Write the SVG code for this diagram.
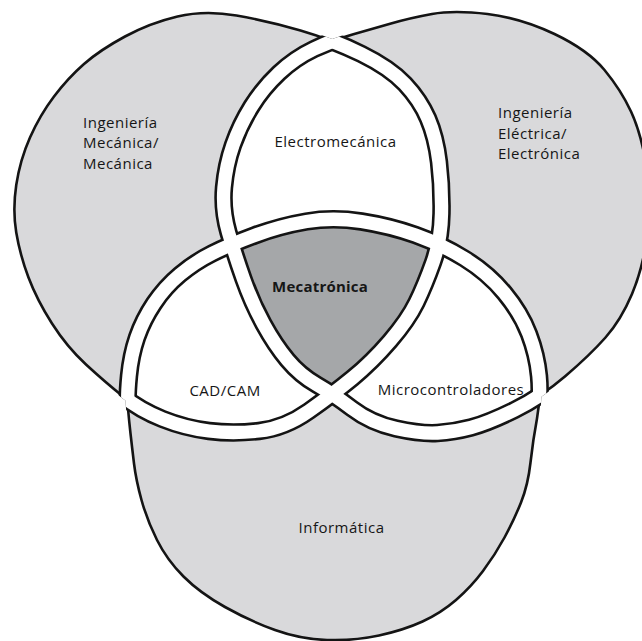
<svg xmlns="http://www.w3.org/2000/svg" width="642" height="641" viewBox="0 0 642 641">
<style>
.lt{fill:#d9d9db}
.wh{fill:#ffffff}
.dk{fill:#a5a7a9}
.ol{fill:none;stroke:#141414;stroke-width:2.6}
.bk{fill:none;stroke:#141414;stroke-width:18.5}
.gap{fill:none;stroke:#ffffff;stroke-width:13.3}
.mk{fill:#ffffff;stroke:#ffffff;stroke-width:4}
.lbl{font-family:"Open Sans","Noto Sans","DejaVu Sans",sans-serif;font-size:15px;letter-spacing:0.5px;fill:#161616}
.b{font-weight:700;letter-spacing:0.2px}
</style>
<defs>
<path id="pA" d="M177.5,16.5 Q205,10 236.5,15.5 Q268,21 300.5,30.5 Q333,40 361.5,54 Q390,68 405,84 Q420,100 428,118.5 Q436,137 439,162 Q442,187 441.5,213.5 Q441,240 433,262.5 Q425,285 416.5,302.5 Q408,320 390,341 Q372,362 352.5,378 Q333,394 309,411 Q285,428 259,431 Q233,434 209,431 Q185,428 162.5,419 Q140,410 122.5,396 Q105,382 86,364.5 Q67,347 52,323.5 Q37,300 28.5,277.5 Q20,255 16.25,232.5 Q12.5,210 16.25,185 Q20,160 30,137.5 Q40,115 54,96.5 Q68,78 84,64 Q100,50 125,36.5 Q150,23 177.5,16.5 Z"/>
<path id="pB" d="M432,14 Q454,10 487.5,14 Q521,18 554.5,34 Q588,50 604.5,70 Q621,90 631,111.5 Q641,133 646.5,166.5 Q652,200 647.5,234 Q643,268 632,294 Q621,320 605.5,337.5 Q590,355 565.5,376 Q541,397 514.5,410 Q488,423 471,427.5 Q454,432 437.5,433 Q421,434 396,428.5 Q371,423 352,408.5 Q333,394 316.5,384.5 Q300,375 287.5,360 Q275,345 263.5,324 Q252,303 243.5,279 Q235,255 228.5,232.5 Q222,210 224,187.5 Q226,165 233,145 Q240,125 251.5,106.5 Q263,88 279,73 Q295,58 314,49 Q333,40 352.5,34.5 Q372,29 391,23.5 Q410,18 432,14 Z"/>
<path id="pC" d="M306.5,221.5 Q333,217 361.5,221.5 Q390,226 415.5,235 Q441,244 464.5,258.5 Q488,273 504.5,293 Q521,313 529,334 Q537,355 539,376 Q541,397 537,418.5 Q533,440 530.5,462.5 Q528,485 521,502.5 Q514,520 504.5,537.5 Q495,555 483,571 Q471,587 456,600 Q441,613 422.5,621.5 Q404,630 379,635.5 Q354,641 327,640 Q300,639 275,630 Q250,621 225,607 Q200,593 183.5,576.5 Q167,560 157,540 Q147,520 141.5,500 Q136,480 134,463.5 Q132,447 130.5,433.5 Q129,420 128,408.5 Q127,397 129,376 Q131,355 137,337.5 Q143,320 154,303.5 Q165,287 180,274.5 Q195,262 212,253.5 Q229,245 254.5,235.5 Q280,226 306.5,221.5 Z"/>
<clipPath id="cA"><use href="#pA"/></clipPath>
<clipPath id="cB"><use href="#pB"/></clipPath>
<clipPath id="cC"><use href="#pC"/></clipPath>
<mask id="mBC" maskUnits="userSpaceOnUse" x="0" y="0" width="642" height="641"><use href="#pB" class="mk"/><use href="#pC" class="mk"/></mask>
<mask id="mAC" maskUnits="userSpaceOnUse" x="0" y="0" width="642" height="641"><use href="#pA" class="mk"/><use href="#pC" class="mk"/></mask>
<mask id="mAB" maskUnits="userSpaceOnUse" x="0" y="0" width="642" height="641"><use href="#pA" class="mk"/><use href="#pB" class="mk"/></mask>
</defs>
<rect x="0" y="0" width="642" height="641" fill="#ffffff"/>
<g id="ingenieria-mecanica">
<use href="#pA" class="lt"/>
<text class="lbl" x="83" y="127.5">Ingeniería</text>
<text class="lbl" x="83" y="148">Mecánica/</text>
<text class="lbl" x="83" y="168.5">Mecánica</text>
</g>
<g id="ingenieria-electrica">
<use href="#pB" class="lt"/>
<text class="lbl" x="498" y="118">Ingeniería</text>
<text class="lbl" x="498" y="138.5">Eléctrica/</text>
<text class="lbl" x="498" y="159">Electrónica</text>
</g>
<g id="informatica">
<use href="#pC" class="lt"/>
<text class="lbl" x="341.5" y="533" text-anchor="middle">Informática</text>
</g>
<g id="electromecanica">
<g clip-path="url(#cB)"><use href="#pA" class="wh"/></g>
<text class="lbl" x="335.5" y="147" text-anchor="middle">Electromecánica</text>
</g>
<g id="cad-cam">
<g clip-path="url(#cC)"><use href="#pA" class="wh"/></g>
<text class="lbl" x="225" y="396" text-anchor="middle">CAD/CAM</text>
</g>
<g id="microcontroladores">
<g clip-path="url(#cC)"><use href="#pB" class="wh"/></g>
<text class="lbl" x="451" y="394.5" text-anchor="middle">Microcontroladores</text>
</g>
<g id="mecatronica">
<g clip-path="url(#cA)"><g clip-path="url(#cB)"><use href="#pC" class="dk"/></g></g>
<text class="lbl b" x="320" y="292" text-anchor="middle">Mecatrónica</text>
</g>
<g id="connectors">
<use href="#pA" class="ol"/>
<use href="#pB" class="ol"/>
<use href="#pC" class="ol"/>
<use href="#pA" class="bk" mask="url(#mBC)"/>
<use href="#pB" class="bk" mask="url(#mAC)"/>
<use href="#pC" class="bk" mask="url(#mAB)"/>
<use href="#pA" class="gap" mask="url(#mBC)"/>
<use href="#pB" class="gap" mask="url(#mAC)"/>
<use href="#pC" class="gap" mask="url(#mAB)"/>
</g>
</svg>
